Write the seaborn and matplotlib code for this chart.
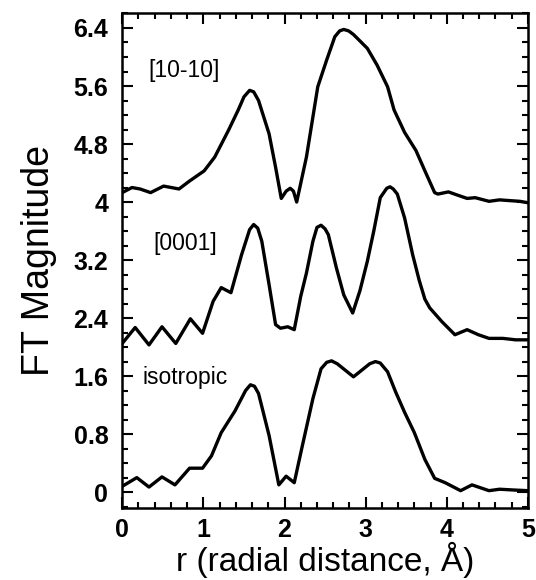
import numpy as np
import pandas as pd
import matplotlib
matplotlib.use("Agg")
import matplotlib.pyplot as plt
import seaborn as sns
from matplotlib.ticker import MultipleLocator, FixedLocator, FixedFormatter

# values
r_1010 = [0.00, 0.12, 0.22, 0.35, 0.51, 0.70, 0.83, 1.01, 1.14, 1.31, 1.43, 1.50, 1.57,
          1.62, 1.68, 1.81, 1.89, 1.96, 2.02, 2.07, 2.11, 2.15, 2.27, 2.41, 2.52, 2.62,
          2.68, 2.73, 2.79, 2.85, 3.02, 3.14, 3.27, 3.35, 3.48, 3.62, 3.73, 3.85, 3.89,
          4.02, 4.12, 4.25, 4.35, 4.52, 4.65, 4.77, 4.90, 5.00]
ft_1010 = [4.13, 4.20, 4.18, 4.13, 4.22, 4.18, 4.29, 4.43, 4.62, 4.99, 5.27, 5.45, 5.54,
           5.52, 5.40, 4.94, 4.48, 4.05, 4.15, 4.19, 4.15, 4.00, 4.62, 5.59, 5.96, 6.28,
           6.36, 6.38, 6.36, 6.31, 6.12, 5.89, 5.59, 5.27, 4.96, 4.71, 4.43, 4.13, 4.11,
           4.14, 4.10, 4.05, 4.06, 4.01, 4.03, 4.02, 4.01, 3.99]

r_0001 = [0.00, 0.16, 0.33, 0.49, 0.66, 0.84, 0.99, 1.12, 1.22, 1.34, 1.47, 1.57, 1.62,
          1.67, 1.72, 1.81, 1.89, 1.95, 2.04, 2.12, 2.20, 2.27, 2.35, 2.40, 2.45, 2.50,
          2.54, 2.64, 2.73, 2.84, 2.93, 3.02, 3.10, 3.18, 3.26, 3.30, 3.34, 3.39, 3.48,
          3.58, 3.66, 3.73, 3.79, 3.94, 4.10, 4.25, 4.39, 4.52, 4.69, 4.85, 5.00]
ft_0001 = [2.05, 2.27, 2.03, 2.28, 2.05, 2.39, 2.19, 2.63, 2.82, 2.75, 3.27, 3.62, 3.69,
           3.64, 3.46, 2.86, 2.31, 2.26, 2.28, 2.24, 2.70, 3.02, 3.46, 3.65, 3.68, 3.63,
           3.55, 3.09, 2.72, 2.47, 2.78, 3.18, 3.60, 4.06, 4.19, 4.21, 4.18, 4.11, 3.78,
           3.27, 2.92, 2.66, 2.54, 2.35, 2.17, 2.24, 2.17, 2.12, 2.12, 2.10, 2.10]

r_iso = [0.00, 0.18, 0.33, 0.49, 0.65, 0.83, 0.99, 1.10, 1.22, 1.39, 1.52, 1.58, 1.63,
         1.68, 1.81, 1.93, 2.02, 2.12, 2.22, 2.35, 2.45, 2.52, 2.58, 2.65, 2.85, 3.05,
         3.12, 3.18, 3.27, 3.37, 3.48, 3.60, 3.73, 3.85, 3.98, 4.17, 4.31, 4.52, 4.65,
         4.81, 5.00]
ft_iso = [0.08, 0.20, 0.07, 0.21, 0.10, 0.33, 0.33, 0.50, 0.82, 1.12, 1.40, 1.48, 1.46,
          1.36, 0.78, 0.10, 0.22, 0.13, 0.64, 1.29, 1.70, 1.79, 1.81, 1.77, 1.59, 1.77,
          1.80, 1.78, 1.66, 1.38, 1.10, 0.82, 0.45, 0.19, 0.13, 0.02, 0.10, 0.02, 0.04,
          0.03, 0.02]

curve_names = ["[10-10]", "[0001]", "isotropic"]
label_x = [0.32, 0.38, 0.25]
label_y = [5.82, 3.43, 1.58]

ytick_vals = [0, 0.8, 1.6, 2.4, 3.2, 4, 4.8, 5.6, 6.4]
ytick_text = ["0", "0.8", "1.6", "2.4", "3.2", "4", "4.8", "5.6", "6.4"]
xtick_vals = [0, 1, 2, 3, 4, 5]

df = pd.concat([
    pd.DataFrame({"r": r_1010, "ft": ft_1010, "curve": curve_names[0]}),
    pd.DataFrame({"r": r_0001, "ft": ft_0001, "curve": curve_names[1]}),
    pd.DataFrame({"r": r_iso, "ft": ft_iso, "curve": curve_names[2]}),
])

sns.set_theme(style="ticks")
plt.rcParams["font.family"] = ["Liberation Sans", "DejaVu Sans"]
plt.rcParams["text.color"] = "black"
plt.rcParams["axes.labelcolor"] = "black"

fig = plt.figure(figsize=(5.36, 5.80), dpi=100)
ax = fig.add_axes([0.228, 0.124, 0.757, 0.854])

sns.lineplot(data=df, x="r", y="ft", hue="curve", units="curve", estimator=None,
             palette=["black"] * 3, linewidth=2.4, legend=False, ax=ax)

for name, lx, ly in zip(curve_names, label_x, label_y):
    ax.text(lx, ly, name, fontsize=16.5, va="center", ha="left", color="black")

ax.set_xlim(0, 5)
ax.set_ylim(-0.22, 6.61)
ax.xaxis.set_major_locator(FixedLocator(xtick_vals))
ax.xaxis.set_minor_locator(MultipleLocator(0.2))
ax.yaxis.set_major_locator(FixedLocator(ytick_vals))
ax.yaxis.set_major_formatter(FixedFormatter(ytick_text))
ax.yaxis.set_minor_locator(MultipleLocator(0.2))

ax.tick_params(which="both", direction="in", top=True, right=True, width=1.5, colors="black")
ax.tick_params(which="major", length=8)
ax.tick_params(which="minor", length=4)
ax.tick_params(axis="y", which="major", pad=10)
ax.tick_params(axis="x", which="major", pad=7)
for lab in ax.get_xticklabels() + ax.get_yticklabels():
    lab.set_fontsize(18)
    lab.set_fontweight("bold")
for sp in ax.spines.values():
    sp.set_linewidth(1.8)
    sp.set_color("black")

ax.set_xlabel("r (radial distance, Å)", fontsize=24, labelpad=0, color="black")
ax.set_ylabel("FT Magnitude", fontsize=27, labelpad=12, color="black")

fig.savefig("out.png", dpi=100)
